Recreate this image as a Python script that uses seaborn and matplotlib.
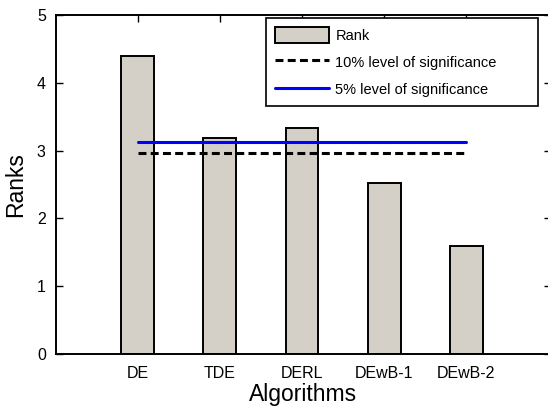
import matplotlib
matplotlib.use("Agg")
import matplotlib.pyplot as plt
import seaborn as sns
import pandas as pd
from matplotlib.patches import Patch
from matplotlib.lines import Line2D

# Average ranks of each algorithm and the critical-difference thresholds
algorithms = ["DE", "TDE", "DERL", "DEwB-1", "DEwB-2"]
ranks = [4.39, 3.19, 3.33, 2.52, 1.59]
level_10 = 2.97
level_5 = 3.12
y_ticks = [0, 1, 2, 3, 4, 5]

sns.set_style("white")
plt.rcParams["font.family"] = ["Liberation Sans", "DejaVu Sans"]
plt.rcParams["text.color"] = "black"
plt.rcParams["axes.labelcolor"] = "black"
plt.rcParams["xtick.color"] = "black"
plt.rcParams["ytick.color"] = "black"

df = pd.DataFrame({"Algorithm": algorithms, "Rank": ranks})

fig = plt.figure(figsize=(5.48, 4.08), dpi=100)
ax = fig.add_axes([55.5 / 548, 54 / 408, (551 - 55.5) / 548, (393 - 54) / 408])

sns.barplot(data=df, x="Algorithm", y="Rank", order=algorithms, ax=ax,
            color="#d4d0c8", saturation=1, width=0.4,
            edgecolor="black", linewidth=1.4, zorder=2)

# Significance thresholds spanning the first to the last algorithm
x0, x1 = 0, len(algorithms) - 1
ax.plot([x0, x1], [level_10, level_10], color="black", lw=2.2,
        dashes=(2.6, 1.4), zorder=3)
ax.plot([x0, x1], [level_5, level_5], color="#0000ff", lw=2.2, zorder=3)

ax.set_xlim(-1, 5.03)
ax.set_ylim(0, 5)
ax.set_yticks(y_ticks)
ax.set_yticklabels([str(t) for t in y_ticks])

ax.set_xlabel("Algorithms", fontsize=16.5, labelpad=1)
ax.set_ylabel("Ranks", fontsize=16.5, labelpad=7)

ax.tick_params(axis="both", direction="in", length=5, width=1,
               labelsize=11.5, top=True, right=True, bottom=True, left=True)
ax.tick_params(axis="x", pad=9)
ax.tick_params(axis="y", pad=7)

for side, sp in ax.spines.items():
    sp.set_visible(True)
    sp.set_color("black")
    sp.set_linewidth(1.4)

handles = [
    Patch(facecolor="#d4d0c8", edgecolor="black", linewidth=1.4),
    Line2D([], [], color="black", lw=2.2, dashes=(2.6, 1.4)),
    Line2D([], [], color="#0000ff", lw=2.2),
]
labels = ["Rank", "10% level of significance", "5% level of significance"]
leg = fig.legend(handles, labels, loc="upper left", mode="expand",
                 bbox_to_anchor=(266 / 548, (408 - 102) / 408,
                                 (538 - 266) / 548, 84 / 408),
                 fontsize=10.5, frameon=True, fancybox=False, shadow=False,
                 framealpha=1, edgecolor="black", borderaxespad=0,
                 handlelength=3.75, handleheight=1.3, handletextpad=0.4,
                 labelspacing=0.78, borderpad=0.6)
leg.get_frame().set_linewidth(1.2)

fig.savefig("out.png", dpi=100)
